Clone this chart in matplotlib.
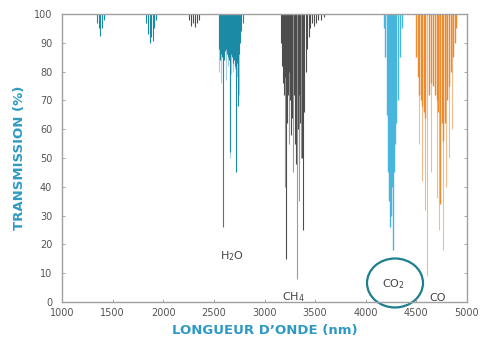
import matplotlib
matplotlib.use("Agg")
import matplotlib.pyplot as plt
from matplotlib.patches import Ellipse

# absorption lines: wavelength (nm) and minimum transmission (%)
h2o_wl = [1350, 1365, 1380, 1395, 1410, 1830, 1850, 1865, 1880, 1895, 1910, 1930,
          2550, 2560, 2570, 2580, 2590, 2600, 2610, 2620, 2630, 2640, 2650, 2660,
          2670, 2680, 2690, 2700, 2710, 2720, 2730, 2740, 2750, 2760, 2770, 2790]
h2o_tr = [97, 95, 92.5, 95, 98, 97, 93, 90, 92, 90.5, 95, 98,
          88, 84, 86, 85, 26, 84, 87, 88, 86, 85, 84, 52,
          86, 85, 83, 84, 82, 45, 83, 68, 86, 90, 94, 97]
h2o_light_wl = [2555, 2575, 2595, 2615, 2635, 2655, 2665, 2685, 2705, 2725, 2745]
h2o_light_tr = [80, 76, 78, 77, 82, 50, 79, 80, 81, 78, 72]

ch4_wl = [2250, 2270, 2290, 2310, 2330, 2350,
          3160, 3170, 3180, 3190, 3200, 3212, 3222, 3232, 3245, 3255, 3265, 3275,
          3290, 3300, 3310, 3332, 3345, 3355, 3368, 3380, 3392, 3405, 3420, 3435,
          3450, 3470, 3490, 3510, 3530, 3560, 3590]
ch4_tr = [98, 96, 97, 95.5, 97, 98,
          90, 82, 76, 72, 78, 15, 62, 72, 80, 70, 58, 64,
          72, 55, 48, 60, 72, 62, 50, 25, 66, 80, 88, 92,
          95, 97, 96, 97, 98, 98, 99]
ch4_light_wl = [3205, 3240, 3285, 3321, 3340, 3360]
ch4_light_tr = [40, 55, 45, 8, 35, 50]

co2_wl = [4180, 4190, 4210, 4220, 4230, 4240, 4250, 4260, 4270, 4280, 4290, 4300,
          4320, 4340, 4360]
co2_tr = [95, 85, 65, 45, 35, 26, 30, 40, 18, 45, 55, 62, 70, 85, 95]

co_wl = [4500, 4515, 4530, 4545, 4560, 4575, 4590, 4620, 4640, 4660, 4680,
         4700, 4715, 4733, 4750, 4765, 4780, 4800, 4820, 4840, 4860, 4880, 4895]
co_tr = [85, 78, 72, 70, 68, 66, 64, 72, 76, 75, 72,
         70, 66, 34, 62, 56, 62, 70, 75, 80, 85, 90, 95]
co_light_wl = [4530, 4560, 4590, 4605, 4640, 4700, 4720, 4760, 4790, 4820, 4850]
co_light_tr = [55, 42, 32, 9, 45, 36, 25, 18, 40, 50, 60]

x_ticks = [1000, 1500, 2000, 2500, 3000, 3500, 4000, 4500, 5000]
y_ticks = [0, 10, 20, 30, 40, 50, 60, 70, 80, 90, 100]

fig = plt.figure(figsize=(4.91, 3.41), dpi=100)
ax = fig.add_axes([0.1263, 0.1144, 0.8248, 0.8446])

ax.vlines(h2o_light_wl, h2o_light_tr, 100, color="#a9d0df", lw=0.8)
ax.vlines(h2o_wl, h2o_tr, 100, color="#1a8aa5", lw=0.8)
ax.vlines(ch4_light_wl, ch4_light_tr, 100, color="#9b9b9b", lw=0.8)
ax.vlines(ch4_wl, ch4_tr, 100, color="#4d4d4d", lw=0.8)
ax.vlines(co2_wl, co2_tr, 100, color="#48b6dc", lw=1.0)
ax.vlines(co_light_wl, co_light_tr, 100, color="#f4bb8c", lw=0.8)
ax.vlines(co_wl, co_tr, 100, color="#ee8a2c", lw=1.0)

ax.set_xlim(1000, 5000)
ax.set_ylim(0, 100)
ax.set_xticks(x_ticks)
ax.set_yticks(y_ticks)
ax.tick_params(direction="in", length=2.5, width=0.6, color="#999999",
               labelsize=7, labelcolor="#555555", right=True, pad=4)
ax.tick_params(axis="y", pad=7)
for s in ax.spines.values():
    s.set_color("#a0a0a0")
    s.set_linewidth(1.0)

lab = dict(color="#2e9ac4", fontsize=9.5, fontweight="bold", family="DejaVu Sans")
ax.set_ylabel("TRANSMISSION (%)", labelpad=6, **lab)
ax.set_xlabel("LONGUEUR D\u2019ONDE (nm)", labelpad=5, **lab)

txt = dict(color="#444444", fontsize=8, ha="center", va="center")
ax.text(2679, 16, "H$_2$O", **txt)
ax.text(3282, 1.6, "CH$_4$", clip_on=False, **txt)
ax.text(4269, 6.2, "CO$_2$", **txt)
ax.text(4714, 1.4, "CO", clip_on=False, **txt)
ax.add_patch(Ellipse((4289, 6.6), 553, 17, fill=False, ec="#1d7f8f", lw=1.6,
                     clip_on=False))

fig.savefig("out.png", dpi=100)
